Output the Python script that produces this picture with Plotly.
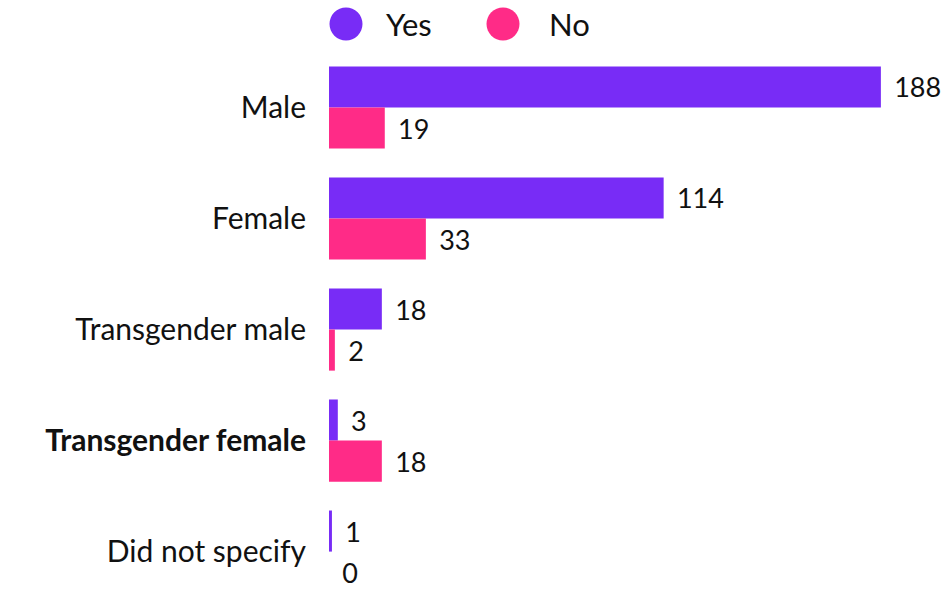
import plotly.graph_objects as go

categories = ["Male", "Female", "Transgender male", "Transgender female", "Did not specify"]
tick_labels = ["Male", "Female", "Transgender male", "<b>Transgender female</b>", "Did not specify"]
yes_values = [188, 114, 18, 3, 1]
no_values = [19, 33, 2, 18, 0]
series_names = ["Yes", "No"]
colors = ["#782CF6", "#FF2B87"]

FONT = "Lato, Century Gothic, sans-serif"
GAP = "\u00a0\u2009"

fig = go.Figure()
for name, vals, col in zip(series_names, [yes_values, no_values], colors):
    fig.add_trace(go.Bar(
        y=categories, x=vals, name=name, orientation="h",
        marker=dict(color=col, line=dict(width=0)),
        text=[f"{GAP}{v}" for v in vals], textposition="outside",
        textfont=dict(size=27, color="#111111", family=FONT),
        constraintext="none", cliponaxis=False, showlegend=False,
        hoverinfo="skip",
    ))

fig.update_layout(
    width=944, height=596,
    margin=dict(l=329, r=0, t=52, b=0, autoexpand=False),
    paper_bgcolor="white", plot_bgcolor="white",
    barmode="group", bargap=0.26, bargroupgap=0,
    font=dict(family=FONT, color="#111111"),
    showlegend=False,
    xaxis=dict(range=[0, 209.5], visible=False, showgrid=False, zeroline=False),
    yaxis=dict(type="category", categoryorder="array", categoryarray=categories,
               range=[4.40, -0.5], tickvals=categories, ticktext=tick_labels,
               tickfont=dict(size=30, color="#111111", family=FONT),
               showgrid=False, zeroline=False, showline=False, ticks="",
               ticklabelstandoff=22),
)

# legend drawn manually with circles
legend_items = [(series_names[0], colors[0], 346, 384), (series_names[1], colors[1], 503, 547)]
for name, col, cx, tx in legend_items:
    fig.add_shape(type="circle", xref="paper", yref="paper",
                  xsizemode="pixel", ysizemode="pixel",
                  xanchor=(cx - 329) / 615, yanchor=1 + (52 - 24) / 544,
                  x0=-16.5, x1=16.5, y0=-16.5, y1=16.5,
                  fillcolor=col, line=dict(width=0))
    fig.add_annotation(text=name, xref="paper", yref="paper",
                       x=(tx - 329) / 615, y=1 + (52 - 24) / 544,
                       xanchor="left", yanchor="middle", showarrow=False,
                       font=dict(size=31, color="#111111", family=FONT))

fig.write_html("out.html", config={"displayModeBar": False},
               post_script="document.body.style.margin='0';document.body.style.overflow='hidden';")
